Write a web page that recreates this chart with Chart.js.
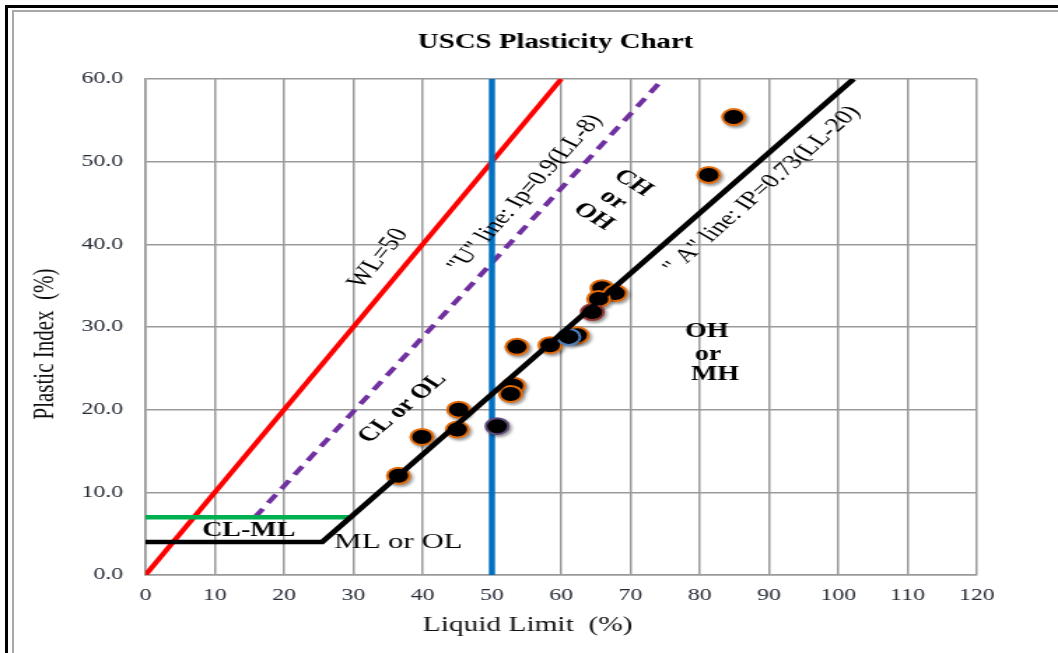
<!DOCTYPE html>
<html>
<head>
<meta charset="utf-8">
<title>USCS Plasticity Chart</title>
<script src="https://cdn.jsdelivr.net/npm/chart.js@4"></script>
<style>
    body { margin: 0; background: #fff; overflow: hidden; }
    /* the original picture is a horizontally stretched screenshot, so the canvas is drawn narrow and widened by CSS */
    #plasticityChart { position: absolute; left: 0; top: 0; }
    #outerFrame { position: absolute; left: 5px; top: 5px; width: 1100px; height: 700px; border-left: 3px solid #000; border-top: 3px solid #000; }
    #innerFrame { position: absolute; left: 12px; top: 10px; width: 1100px; height: 700px; border-left: 2px solid #a8a8a8; border-top: 2px solid #a8a8a8; }
</style>
</head>
<body>
<canvas id="plasticityChart" width="756" height="653" style="width:1058px;height:653px"></canvas>
<div id="outerFrame"></div>
<div id="innerFrame"></div>
<script>
// Soil samples (liquid limit / plasticity index, %)
const soilLL = [36.5, 39.9, 45.0, 45.2, 50.75, 53.1, 52.7, 53.6, 58.4, 62.3, 61.1, 65.9, 67.8, 65.4, 64.5, 81.3, 84.9];
const soilPI = [12.0, 16.7, 17.6, 20.0, 18.0, 22.9, 21.9, 27.6, 27.8, 29.0, 28.8, 34.7, 34.1, 33.4, 31.8, 48.4, 55.4];

// Reference lines of the chart (end points)
const wlLL = [0, 60];
const wlPI = [0, 60];
const uLineLL = [15.8, 74.7];
const uLinePI = [7, 60];
const aLineLL = [0, 25.5, 102.2];
const aLinePI = [4, 4, 60];
const clmlLL = [0, 29.6];
const clmlPI = [7, 7];
const ll50LL = [50, 50];
const ll50PI = [0, 60];

// Axis ranges / ticks
const xTickStep = 10;
const xMax = 120;
const yTickStep = 10;
const yMax = 60;

// Styling
const SERIF = '"Liberation Serif", "Times New Roman", serif';
const GRID = '#9a9a9a';
const TICK_TEXT = '#262b36';
const ringColours = ['#e46c0a', '#e46c0a', '#e46c0a', '#e46c0a', '#5f497a', '#e46c0a', '#e46c0a', '#e46c0a',
    '#e46c0a', '#e46c0a', '#4f81bd', '#e46c0a', '#e46c0a', '#e46c0a', '#943634', '#e46c0a', '#e46c0a'];

function toPoints(xs, ys) {
    return xs.map((x, i) => ({ x: x, y: ys[i] }));
}

function lineSet(label, xs, ys, colour, width, order, dash) {
    return {
        label: label,
        data: toPoints(xs, ys),
        showLine: true,
        borderColor: colour,
        borderWidth: width,
        borderDash: dash || [],
        pointRadius: 0,
        fill: false,
        tension: 0,
        order: order
    };
}

// Free text on the chart, placed in data units
const notes = [
    { lines: ['WL=50'], x: 33.6, y: 38.3, angle: -59, font: 'normal 21px ' + SERIF },
    { lines: ['"U" line: Ip=0.9(LL-8)'], x: 54.8, y: 46.2, angle: -56.4, font: 'normal 20px ' + SERIF },
    { lines: ['" A" line: IP=0.73(LL-20)'], x: 89.0, y: 46.6, angle: -50.6, font: 'normal 20px ' + SERIF },
    { lines: ['CL or OL'], x: 37.1, y: 20.2, angle: -49, font: 'bold 20px ' + SERIF },
    { lines: ['CH', 'or', 'OH'], x: 67.5, y: 45.4, angle: 40, font: 'bold 20px ' + SERIF, step: 22 },
    { lines: ['OH'], x: 81.0, y: 29.4, angle: 0, font: 'bold 20px ' + SERIF },
    { lines: ['or'], x: 81.2, y: 26.6, angle: 0, font: 'bold 20px ' + SERIF },
    { lines: ['MH'], x: 82.2, y: 24.2, angle: 0, font: 'bold 20px ' + SERIF },
    { lines: ['CL-ML'], x: 14.9, y: 5.4, angle: 0, font: 'bold 20px ' + SERIF },
    { lines: ['ML or OL'], x: 36.5, y: 4.0, angle: 0, font: 'normal 22px ' + SERIF }
];

const textPlugin = {
    id: 'chartText',
    beforeDatasetDraw(chart, args) {
        if (chart.data.datasets[args.index].label === 'Samples') {
            const ctx = chart.ctx;
            ctx.save();
            ctx.shadowColor = 'rgba(0,0,0,0.35)';
            ctx.shadowBlur = 3;
            ctx.shadowOffsetX = 1.5;
            ctx.shadowOffsetY = 2;
        }
    },
    afterDatasetDraw(chart, args) {
        if (chart.data.datasets[args.index].label === 'Samples') {
            chart.ctx.restore();
        }
    },
    afterDraw(chart) {
        const ctx = chart.ctx;
        const xs = chart.scales.x;
        const ys = chart.scales.y;
        ctx.save();
        ctx.fillStyle = '#000';
        ctx.textAlign = 'center';
        ctx.textBaseline = 'middle';

        // title
        ctx.font = 'bold 20.6px ' + SERIF;
        ctx.fillText('USCS Plasticity Chart', 397, 43);

        // axis titles
        ctx.font = 'normal 21px ' + SERIF;
        ctx.fillStyle = '#111';
        ctx.fillText('Liquid Limit  (%)', 377, 625);
        ctx.save();
        ctx.translate(32, 344);
        ctx.rotate(-Math.PI / 2);
        ctx.fillText('Plastic Index  (%)', 0, 0);
        ctx.restore();

        ctx.fillStyle = '#000';
        notes.forEach(n => {
            ctx.save();
            ctx.translate(xs.getPixelForValue(n.x), ys.getPixelForValue(n.y));
            ctx.rotate(n.angle * Math.PI / 180);
            ctx.font = n.font;
            const step = n.step || 0;
            const mid = (n.lines.length - 1) / 2;
            n.lines.forEach((t, i) => ctx.fillText(t, 0, (i - mid) * step));
            ctx.restore();
        });
        ctx.restore();
    }
};

function renderPlasticityChart() {
    const ctx = document.getElementById('plasticityChart').getContext('2d');
    new Chart(ctx, {
        type: 'scatter',
        data: {
            datasets: [
                lineSet('A line', aLineLL, aLinePI, '#000000', 4.5, 0),
                {
                    label: 'Samples',
                    data: toPoints(soilLL, soilPI),
                    pointRadius: 8,
                    pointBorderWidth: 2,
                    pointBackgroundColor: '#000000',
                    pointBorderColor: c => ringColours[c.dataIndex] || '#e46c0a',
                    order: 1
                },
                lineSet('LL = 50', ll50LL, ll50PI, '#0070c0', 4.4, 2),
                lineSet('CL-ML', clmlLL, clmlPI, '#00b050', 4.5, 3),
                lineSet('U line', uLineLL, uLinePI, '#7030a0', 4, 4, [10, 7]),
                lineSet('WL=50', wlLL, wlPI, '#ff0000', 4, 5)
            ]
        },
        options: {
            responsive: false,
            devicePixelRatio: 1,
            animation: false,
            layout: { padding: { top: 79, right: 58, left: 0, bottom: 0 } },
            plugins: {
                legend: { display: false },
                tooltip: { enabled: false }
            },
            scales: {
                x: {
                    type: 'linear',
                    min: 0,
                    max: xMax,
                    afterFit: s => { s.height = 78; },
                    grid: { color: GRID, lineWidth: 1.5, drawTicks: false },
                    border: { color: GRID, width: 1.5 },
                    ticks: {
                        stepSize: xTickStep,
                        padding: 10,
                        color: TICK_TEXT,
                        font: { family: SERIF, size: 17 }
                    }
                },
                y: {
                    type: 'linear',
                    min: 0,
                    max: yMax,
                    afterFit: s => { s.width = 104; },
                    grid: { color: GRID, lineWidth: 1.5, drawTicks: false },
                    border: { color: GRID, width: 1.5 },
                    ticks: {
                        stepSize: yTickStep,
                        padding: 16,
                        color: TICK_TEXT,
                        font: { family: SERIF, size: 17 },
                        callback: v => v.toFixed(1)
                    }
                }
            }
        },
        plugins: [textPlugin]
    });
}

window.onload = renderPlasticityChart;
</script>
</body>
</html>
